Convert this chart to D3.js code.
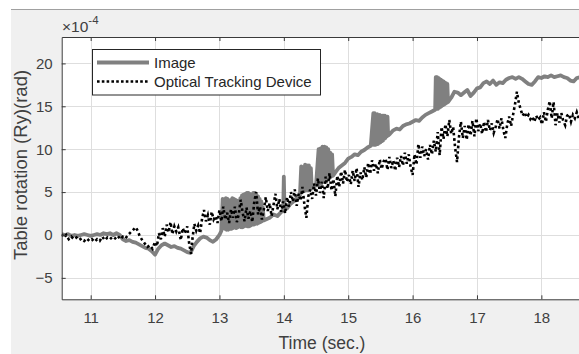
<!DOCTYPE html>
<html>
<head>
<meta charset="utf-8">
<script src="https://cdn.jsdelivr.net/npm/d3@7"></script>
<style>
  html, body { margin: 0; padding: 0; background: #ffffff; }
  svg { display: block; font-family: "Liberation Sans", Arial, Helvetica, sans-serif; }
</style>
</head>
<body>
<svg id="chart" width="579" height="354"></svg>
<script>
// Tick values and labels
const xTicks = [11, 12, 13, 14, 15, 16, 17, 18];
const yTicks = [-5, 0, 5, 10, 15, 20];
const xLabel = "Time (sec.)";
const yLabel = "Table rotation (Ry)(rad)";
const seriesNames = ["Image", "Optical Tracking Device"];

// Rotation estimated from the camera images: [time (s), rotation (×1e-4 rad)]
const imageSeries = [
  [10.55,0.1],[10.60,0.0],[10.65,0.1],[10.70,-0.1],[10.75,0.0],[10.80,-0.1],[10.85,0.0],[10.90,0.1],
  [10.95,0.0],[11.00,-0.1],[11.05,0.0],[11.10,0.1],[11.15,0.0],[11.20,0.2],[11.25,0.1],[11.30,0.2],
  [11.35,0.0],[11.40,0.2],[11.45,0.0],[11.50,-0.5],[11.55,-0.7],[11.60,-0.6],[11.65,-0.8],[11.70,-0.9],
  [11.75,-1.1],[11.80,-1.3],[11.85,-1.5],[11.90,-1.6],[11.95,-1.9],[12.00,-2.3],[12.05,-1.6],[12.10,-1.2],
  [12.15,-1.0],[12.20,-1.2],[12.25,-1.4],[12.30,-1.3],[12.35,-1.5],[12.40,-1.6],[12.45,-1.8],[12.50,-2.0],
  [12.55,-2.1],[12.60,-1.3],[12.65,-0.8],[12.70,-0.4],[12.75,-0.2],[12.80,-0.3],[12.85,-0.6],[12.90,-0.8],
  [12.95,-0.5],[13.00,0.0],[13.03,0.5],
  [13.05,4.2],[13.0625,0.8],[13.075,4.1],[13.0875,0.7],[13.10,4.3],[13.1125,0.6],[13.125,4.2],[13.1375,0.6],
  [13.15,4.0],[13.1625,0.7],[13.175,4.1],[13.1875,0.7],[13.20,4.3],[13.2125,0.8],[13.225,4.2],[13.2375,0.9],
  [13.25,4.1],[13.2625,0.8],[13.275,4.0],[13.2875,0.9],[13.30,3.8],[13.3125,1.0],[13.325,4.3],[13.3375,0.9],
  [13.35,4.6],[13.3625,0.9],[13.375,4.7],[13.3875,1.0],[13.40,4.8],[13.4125,1.1],[13.425,4.9],[13.4375,1.0],
  [13.45,4.9],[13.4625,1.0],[13.475,4.8],[13.4875,1.1],[13.50,4.7],[13.5125,1.2],[13.525,4.9],[13.5375,1.2],
  [13.55,4.9],[13.5625,1.3],[13.575,4.7],[13.5875,1.3],[13.60,4.5],[13.6125,1.4],[13.625,4.2],[13.6375,1.5],
  [13.65,3.9],[13.6625,1.6],[13.675,3.2],[13.6875,1.7],
  [13.72,1.8],[13.78,2.0],[13.84,2.4],[13.90,2.2],[13.95,2.6],[13.99,2.9],[14.00,6.8],[14.01,3.0],
  [14.05,3.1],[14.10,3.6],[14.15,3.9],[14.20,4.3],[14.25,4.6],
  [14.27,8.0],[14.285,5.0],[14.30,7.9],[14.315,5.1],[14.33,8.2],[14.345,5.2],[14.36,8.1],[14.375,5.2],
  [14.39,8.1],[14.405,5.3],[14.42,7.8],[14.435,5.4],[14.45,5.5],[14.50,5.8],
  [14.54,10.0],[14.555,5.9],[14.57,10.1],[14.585,6.0],[14.60,10.3],[14.615,6.2],[14.63,10.3],[14.645,6.3],
  [14.66,10.2],[14.675,6.5],[14.69,10.0],[14.705,6.6],[14.72,9.6],[14.735,6.8],[14.75,9.4],[14.765,6.9],
  [14.80,7.3],[14.85,7.8],[14.90,8.1],[14.95,8.4],[15.00,8.9],[15.05,9.1],[15.10,9.4],[15.15,9.3],
  [15.20,9.7],[15.25,9.9],[15.30,10.2],[15.35,10.4],
  [15.39,14.2],[15.40,10.5],[15.41,14.2],[15.42,10.5],[15.43,14.1],[15.44,10.6],[15.45,14.1],[15.46,10.6],
  [15.47,14.0],[15.48,10.7],[15.49,14.0],[15.50,10.8],[15.51,13.9],[15.52,10.9],[15.53,13.9],[15.54,11.0],
  [15.55,13.9],[15.56,11.2],[15.57,13.9],[15.58,11.3],[15.59,13.8],[15.60,11.5],[15.61,13.8],[15.62,11.6],
  [15.65,11.8],[15.70,12.2],[15.75,12.4],[15.80,12.3],[15.85,12.7],[15.90,12.9],[15.95,13.0],[16.00,13.2],
  [16.05,13.4],[16.10,13.3],[16.15,13.7],[16.20,14.0],[16.25,14.2],[16.30,14.4],[16.35,14.6],
  [16.36,18.4],[16.37,14.7],[16.38,18.4],[16.39,14.7],[16.40,18.3],[16.41,14.8],[16.42,18.2],[16.43,14.9],
  [16.44,18.1],[16.45,15.0],[16.46,18.0],[16.47,15.1],[16.48,17.9],[16.49,15.2],[16.50,17.8],[16.51,15.3],
  [16.52,17.7],[16.53,15.4],[16.54,17.6],[16.55,15.5],
  [16.60,16.0],[16.65,16.7],[16.70,16.6],[16.75,16.3],[16.80,16.6],[16.85,16.9],[16.90,16.2],[16.95,16.6],
  [17.00,17.1],[17.05,17.2],[17.10,17.7],[17.15,17.9],[17.20,17.6],[17.25,18.0],[17.30,17.5],[17.35,17.8],
  [17.40,17.7],[17.45,18.1],[17.50,18.3],[17.55,18.4],[17.60,18.2],[17.65,18.4],[17.70,18.2],[17.75,17.9],
  [17.80,17.6],[17.85,17.5],[17.90,17.9],[17.95,18.4],[18.00,18.3],[18.05,18.5],[18.10,18.4],[18.15,18.6],
  [18.20,18.4],[18.25,18.5],[18.30,18.6],[18.35,18.4],[18.40,18.3],[18.45,18.0],[18.50,17.9],[18.55,18.3],
  [18.60,18.4]
];

// Rotation from the optical tracking device: [time (s), rotation (×1e-4 rad)]
const opticalSeries = [
  [10.55,0.1],[10.58,-0.3],[10.62,0.0],[10.66,-0.5],[10.70,-0.2],[10.74,-0.5],[10.78,-0.3],[10.82,-0.6],
  [10.86,-0.4],[10.90,-0.7],[10.94,-0.4],[10.98,-0.7],[11.02,-0.5],[11.06,-0.8],[11.10,-0.5],[11.14,-0.7],
  [11.18,-0.2],[11.22,-0.6],[11.26,-0.3],[11.30,-0.5],[11.34,-0.2],[11.38,-0.4],[11.42,-0.1],[11.46,-0.5],
  [11.50,-0.2],[11.54,-0.4],[11.58,0.0],[11.62,0.3],[11.66,0.6],[11.70,0.9],[11.73,0.5],[11.76,-0.1],
  [11.80,-0.6],[11.84,-1.0],[11.88,-1.4],[11.92,-1.2],[11.96,-1.6],[12.00,-0.8],[12.03,-1.3],[12.06,0.2],
  [12.09,-0.5],[12.12,0.8],[12.15,-0.2],[12.18,1.2],[12.21,0.3],[12.24,1.5],[12.27,0.1],[12.30,1.0],
  [12.33,0.4],[12.36,0.9],[12.40,-0.6],[12.43,0.8],[12.46,0.2],[12.50,1.0],[12.53,-1.0],[12.56,-2.2],
  [12.58,-0.5],[12.61,1.3],[12.64,0.5],[12.67,1.1],[12.70,0.2],[12.73,1.9],[12.76,2.9],[12.79,1.6],
  [12.82,2.3],[12.85,1.2],[12.88,2.7],[12.91,1.8],[12.94,2.2],[12.97,1.4],[13.00,2.9],[13.03,1.6],
  [13.06,3.3],[13.09,1.8],[13.12,2.6],[13.15,1.4],[13.18,3.0],[13.21,2.0],[13.24,3.3],[13.27,1.5],
  [13.30,2.4],[13.33,4.1],[13.36,2.6],[13.39,1.6],[13.42,3.2],[13.45,1.9],[13.48,2.8],[13.51,1.5],
  [13.54,3.8],[13.57,5.0],[13.60,2.4],[13.63,3.3],[13.66,1.8],[13.69,3.0],[13.72,4.4],[13.75,2.8],
  [13.78,3.7],[13.81,2.2],[13.84,3.5],[13.87,4.8],[13.90,3.0],[13.93,4.2],[13.96,2.7],[13.99,3.9],
  [14.02,2.5],[14.05,4.4],[14.08,3.3],[14.11,5.0],[14.14,3.9],[14.17,5.3],[14.20,3.4],[14.23,4.8],
  [14.26,4.0],[14.29,5.6],[14.32,3.5],[14.35,2.0],[14.38,4.5],[14.41,5.3],[14.44,4.2],[14.47,6.0],
  [14.50,4.6],[14.53,6.6],[14.56,4.9],[14.59,6.2],[14.62,4.3],[14.65,6.8],[14.68,5.4],[14.71,7.2],
  [14.74,5.2],[14.77,6.5],[14.80,4.5],[14.83,6.9],[14.86,5.6],[14.89,7.4],[14.92,6.0],[14.95,7.6],
  [14.98,6.2],[15.01,7.0],[15.04,5.9],[15.07,7.5],[15.10,6.3],[15.13,7.8],[15.16,5.6],[15.19,7.3],
  [15.22,6.4],[15.25,7.9],[15.28,6.7],[15.31,8.4],[15.34,7.1],[15.37,8.7],[15.40,7.5],[15.43,8.3],
  [15.46,7.2],[15.49,8.8],[15.52,7.7],[15.55,8.6],[15.58,8.9],[15.61,7.6],[15.64,9.1],[15.67,7.8],
  [15.70,8.7],[15.73,7.5],[15.76,9.0],[15.79,7.9],[15.82,9.2],[15.85,8.1],[15.88,9.6],[15.91,8.3],
  [15.94,9.4],[15.97,7.9],[16.00,7.0],[16.03,9.4],[16.06,8.2],[16.09,10.6],[16.12,9.0],[16.15,10.3],
  [16.18,9.2],[16.21,10.0],[16.24,8.8],[16.27,10.5],[16.30,9.4],[16.33,11.0],[16.36,9.7],[16.39,12.0],
  [16.42,9.3],[16.45,12.6],[16.48,11.2],[16.51,12.9],[16.54,11.5],[16.57,13.4],[16.60,11.8],[16.63,12.6],
  [16.66,10.2],[16.69,8.5],[16.72,11.4],[16.75,13.2],[16.78,11.3],[16.81,12.7],[16.84,11.1],[16.87,12.9],
  [16.90,11.6],[16.93,13.3],[16.96,11.5],[16.99,13.6],[17.02,12.1],[17.05,13.0],[17.08,11.8],[17.11,13.2],
  [17.14,12.0],[17.17,13.4],[17.20,12.2],[17.23,13.0],[17.26,11.9],[17.29,12.6],[17.32,13.5],[17.35,12.4],
  [17.38,13.6],[17.41,12.2],[17.44,11.3],[17.47,12.9],[17.50,13.8],[17.53,12.7],[17.56,14.0],[17.59,15.2],
  [17.62,16.7],[17.65,15.4],[17.68,14.6],[17.71,13.9],[17.74,14.3],[17.77,13.7],[17.80,14.0],[17.83,13.5],
  [17.86,13.8],[17.89,13.2],[17.92,13.9],[17.95,13.4],[17.98,13.7],[18.01,12.9],[18.04,14.3],[18.07,13.2],
  [18.10,14.6],[18.13,15.6],[18.16,13.6],[18.19,15.5],[18.22,12.8],[18.25,14.2],[18.28,13.1],[18.31,14.2],
  [18.34,13.3],[18.37,12.8],[18.40,13.9],[18.43,14.1],[18.46,13.2],[18.49,14.0],[18.52,13.6],[18.55,14.3],
  [18.58,13.6]
];

const W = 579, H = 354;
const plot = { left: 61.7, top: 37, right: 580, bottom: 299.3 };
const textColor = "#404040";
const axisColor = "#3a3a3a";

const svg = d3.select("#chart");

// Figure window background
svg.append("rect").attr("x", 11).attr("y", 9).attr("width", W - 11).attr("height", H - 9)
  .attr("fill", "#f0f0f0");
svg.append("line").attr("x1", 11).attr("x2", W).attr("y1", 9.5).attr("y2", 9.5)
  .attr("stroke", "#a0a0a0").attr("stroke-width", 1);

const x = d3.scaleLinear().domain([10.55, 18.6]).range([plot.left, plot.right]);
const y = d3.scaleLinear().domain([-7.5, 23.08]).range([plot.bottom, plot.top]);

// Axes area
svg.append("rect").attr("x", plot.left).attr("y", plot.top)
  .attr("width", plot.right - plot.left).attr("height", plot.bottom - plot.top)
  .attr("fill", "#ffffff");

svg.append("clipPath").attr("id", "clip").append("rect")
  .attr("x", plot.left).attr("y", plot.top)
  .attr("width", plot.right - plot.left).attr("height", plot.bottom - plot.top);

// Grid
const grid = svg.append("g").attr("stroke", "#dedede").attr("stroke-width", 1);
grid.selectAll(".gx").data(xTicks).join("line")
  .attr("x1", d => Math.round(x(d)) + 0.5).attr("x2", d => Math.round(x(d)) + 0.5)
  .attr("y1", plot.top).attr("y2", plot.bottom);
grid.selectAll(".gy").data(yTicks).join("line")
  .attr("y1", d => Math.round(y(d)) + 0.5).attr("y2", d => Math.round(y(d)) + 0.5)
  .attr("x1", plot.left).attr("x2", plot.right);

// Data lines
const line = d3.line().x(d => x(d[0])).y(d => y(d[1]));
const data = svg.append("g").attr("clip-path", "url(#clip)");
data.append("path").datum(imageSeries).attr("d", line)
  .attr("fill", "none").attr("stroke", "#808080").attr("stroke-width", 3.8)
  .attr("stroke-linejoin", "round");
data.append("path").datum(opticalSeries).attr("d", line)
  .attr("fill", "none").attr("stroke", "#000000").attr("stroke-width", 2.6)
  .attr("stroke-dasharray", "2.6,2.8");

// Axes (ticks point inward)
const tickLen = 4;
const xAxis = svg.append("g").attr("transform", `translate(0,${plot.bottom})`)
  .call(d3.axisBottom(x).tickValues(xTicks).tickSizeInner(-tickLen).tickSizeOuter(0).tickPadding(13));
const xAxisTop = svg.append("g").attr("transform", `translate(0,${plot.top})`)
  .call(d3.axisTop(x).tickValues(xTicks).tickSizeInner(-tickLen).tickSizeOuter(0).tickFormat(""));
const yAxis = svg.append("g").attr("transform", `translate(${plot.left},0)`)
  .call(d3.axisLeft(y).tickValues(yTicks).tickSizeInner(-tickLen).tickSizeOuter(0).tickPadding(9));

[xAxis, xAxisTop, yAxis].forEach(g => {
  g.select(".domain").attr("stroke", axisColor).attr("stroke-width", 1);
  g.selectAll(".tick line").attr("stroke", axisColor).attr("stroke-width", 1);
  g.selectAll(".tick text").attr("fill", textColor).attr("font-size", "15px")
    .attr("font-family", "Liberation Sans, Arial, sans-serif");
});

// Exponent multiplier for the y axis
const mult = svg.append("text").attr("x", 62).attr("y", 32)
  .attr("fill", textColor).attr("font-size", "15.5px");
mult.append("tspan").text("×10");
mult.append("tspan").attr("dy", -8).attr("font-size", "11.5px").text("-4");

// Axis labels
svg.append("text").attr("x", 322).attr("y", 349).attr("text-anchor", "middle")
  .attr("fill", textColor).attr("font-size", "17.5px").text(xLabel);
svg.append("text").attr("transform", `translate(27,165) rotate(-90)`).attr("text-anchor", "middle")
  .attr("fill", textColor).attr("font-size", "18.5px").text(yLabel);

// Legend
const legend = svg.append("g");
legend.append("rect").attr("x", 92.5).attr("y", 49.5).attr("width", 228).attr("height", 45.5)
  .attr("fill", "#ffffff").attr("stroke", "#262626").attr("stroke-width", 1);
const legendRows = [
  { name: seriesNames[0], y: 62.5, stroke: "#808080", width: 3.8, dash: null },
  { name: seriesNames[1], y: 81.5, stroke: "#000000", width: 2.6, dash: "2.6,2.2" }
];
legendRows.forEach(r => {
  legend.append("line").attr("x1", 97).attr("x2", 149).attr("y1", r.y).attr("y2", r.y)
    .attr("stroke", r.stroke).attr("stroke-width", r.width).attr("stroke-dasharray", r.dash);
  legend.append("text").attr("x", 154).attr("y", r.y + 5.5)
    .attr("fill", "#262626").attr("font-size", "15px").text(r.name);
});
</script>
</body>
</html>
